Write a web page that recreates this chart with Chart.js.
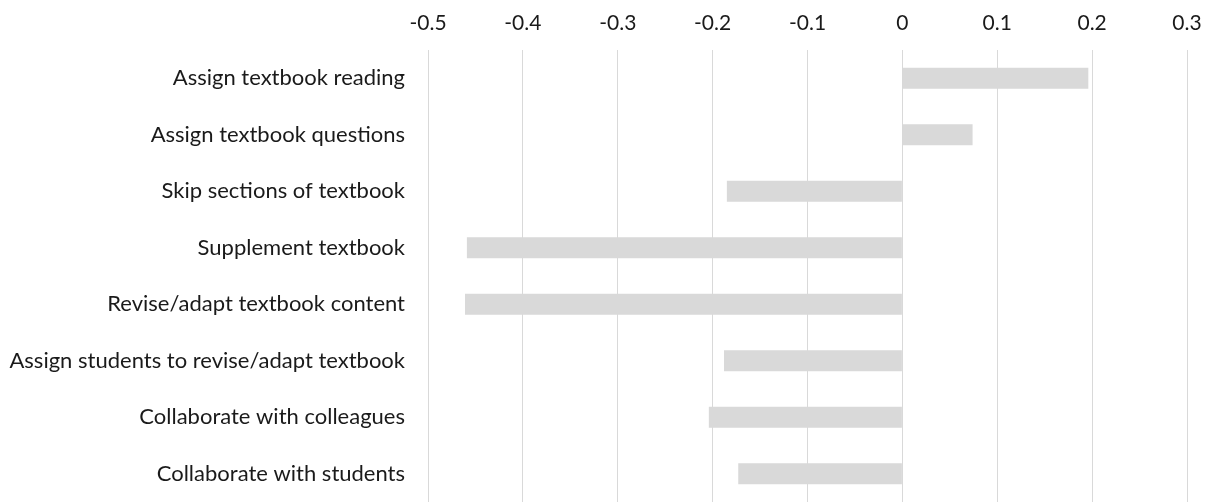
<!DOCTYPE html>
<html>
<head>
<meta charset="utf-8">
<script src="https://cdn.jsdelivr.net/npm/chart.js@4/dist/chart.umd.min.js"></script>
<style>
  html, body { margin: 0; padding: 0; background: #fff; }
  #wrap { width: 1209px; height: 502px; position: relative; }
</style>
</head>
<body>
<div id="wrap"><canvas id="chart"></canvas></div>
<script>
const categories = [
  'Assign textbook reading',
  'Assign textbook questions',
  'Skip sections of textbook',
  'Supplement textbook',
  'Revise/adapt textbook content',
  'Assign students to revise/adapt textbook',
  'Collaborate with colleagues',
  'Collaborate with students'
];
const values = [0.196, 0.074, -0.185, -0.459, -0.461, -0.188, -0.204, -0.173];
const axisMin = -0.5;
const axisMax = 0.3;
const axisStep = 0.1;

new Chart(document.getElementById('chart').getContext('2d'), {
  type: 'bar',
  data: {
    labels: categories,
    datasets: [{
      data: values,
      backgroundColor: '#d9d9d9',
      borderWidth: 0,
      categoryPercentage: 1,
      barPercentage: 0.37
    }]
  },
  options: {
    indexAxis: 'y',
    responsive: true,
    maintainAspectRatio: false,
    animation: false,
    layout: { padding: { top: 0, right: 22, left: 0, bottom: 0 } },
    plugins: {
      legend: { display: false },
      tooltip: { enabled: false }
    },
    scales: {
      x: {
        position: 'top',
        min: axisMin,
        max: axisMax,
        border: { display: false },
        grid: { color: '#d9d9d9', lineWidth: 1, drawTicks: false },
        ticks: {
          stepSize: axisStep,
          padding: 14,
          color: '#1a1a1a',
          font: { family: 'Lato', size: 21 },
          maxRotation: 0,
          callback: v => String(Math.round(v * 10) / 10)
        },
        afterFit: scale => {
          scale.height = 50;
          scale.paddingLeft = 0;
          scale.paddingRight = 0;
        }
      },
      y: {
        border: { display: false },
        grid: { display: false },
        ticks: { color: '#1a1a1a', font: { family: 'Lato', size: 22 }, padding: 15 },
        afterFit: scale => {
          scale.width = 428;
          scale.paddingTop = 0;
          scale.paddingBottom = 0;
        }
      }
    }
  }
});
</script>
</body>
</html>
